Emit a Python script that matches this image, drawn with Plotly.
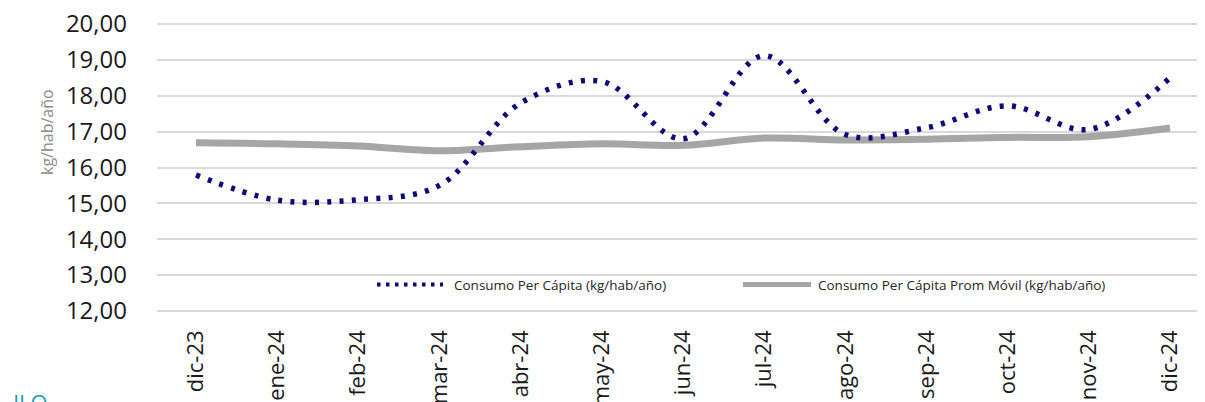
import plotly.graph_objects as go

months = ["dic-23", "ene-24", "feb-24", "mar-24", "abr-24", "may-24", "jun-24",
          "jul-24", "ago-24", "sep-24", "oct-24", "nov-24", "dic-24"]
consumo = [15.79, 15.09, 15.10, 15.50, 17.80, 18.40, 16.80,
           19.12, 16.92, 17.11, 17.72, 17.06, 18.50]
prom_movil = [16.69, 16.66, 16.60, 16.47, 16.58, 16.66, 16.62,
              16.82, 16.77, 16.79, 16.84, 16.86, 17.10]
y_ticks = [12, 13, 14, 15, 16, 17, 18, 19, 20]

name1 = "Consumo Per Cápita (kg/hab/año)"
name2 = "Consumo Per Cápita Prom Móvil (kg/hab/año)"

# page body has an 8px margin; work in page pixels and convert
OFF = 8
W, H = 1205 - OFF, 402 - OFF
L, R, T, B = 157 - OFF, 0, 23 - OFF, 402 - 312
pw, ph = W - L - R, H - T - B

def px_x(x):  # page pixel -> paper
    return (x - OFF - L) / pw

def px_y(y):
    return (H - B - (y - OFF)) / ph

xi = list(range(len(months)))

fig = go.Figure()
fig.add_trace(go.Scatter(
    x=xi, y=prom_movil, mode="lines", name=name2,
    line=dict(color="#a6a6a6", width=7, shape="spline", smoothing=1.0),
    showlegend=False, hoverinfo="skip"))
fig.add_trace(go.Scatter(
    x=xi, y=consumo, mode="lines", name=name1,
    line=dict(color="#100a78", width=5.5, shape="spline", smoothing=1.0, dash="4px,8.3px"),
    showlegend=False, hoverinfo="skip"))

# custom legend
ly = px_y(284.5)
shapes = [
    dict(type="line", xref="paper", yref="paper", x0=px_x(377), x1=px_x(443), y0=ly, y1=ly,
         line=dict(color="#100a78", width=4, dash="3.5px,5.5px")),
    dict(type="line", xref="paper", yref="paper", x0=px_x(743), x1=px_x(811), y0=ly, y1=ly,
         line=dict(color="#a6a6a6", width=5)),
]
annotations = [
    dict(text=name1, xref="paper", yref="paper", x=px_x(452), y=ly, xanchor="left", yanchor="middle",
         showarrow=False, font=dict(family="Open Sans", size=13.5, color="#262626")),
    dict(text=name2, xref="paper", yref="paper", x=px_x(816), y=ly, xanchor="left", yanchor="middle",
         showarrow=False, font=dict(family="Open Sans", size=13.5, color="#262626")),
    dict(text="kg/hab/año", xref="paper", yref="paper", x=px_x(47), y=px_y(132),
         xanchor="center", yanchor="middle", textangle=-90, showarrow=False,
         font=dict(family="Open Sans", size=16, color="#8c8c8c")),
    dict(text="ULO", xref="paper", yref="paper", x=px_x(1), y=px_y(385),
         xanchor="left", yanchor="top", showarrow=False,
         font=dict(family="Open Sans", size=22, color="#1aa0b4")),
]

x_left = (157 - 196) / 81.17
x_right = (1205 - 196) / 81.17

fig.update_layout(
    width=W, height=H,
    margin=dict(l=L, r=R, t=T, b=B, pad=0, autoexpand=False),
    paper_bgcolor="white", plot_bgcolor="white",
    separators=",.",
    showlegend=False,
    shapes=shapes, annotations=annotations,
    xaxis=dict(
        tickmode="array", tickvals=xi, ticktext=months, range=[x_left, x_right],
        tickangle=-90, showgrid=False, zeroline=False, showline=False, ticks="",
        ticklabelstandoff=13, ticklabeloverflow="allow", automargin=False,
        tickfont=dict(family="Open Sans", size=22, color="#1a1a1a")),
    yaxis=dict(
        range=[11.97, 20.03], tickmode="array", tickvals=y_ticks, tickformat=".2f",
        showgrid=True, gridcolor="#d9d9d9", gridwidth=1.6, zeroline=False,
        showline=False, ticks="", ticklabelstandoff=29, ticklabeloverflow="allow",
        automargin=False,
        tickfont=dict(family="Open Sans", size=24, color="#1a1a1a")),
)

fig.write_html("out.html")
